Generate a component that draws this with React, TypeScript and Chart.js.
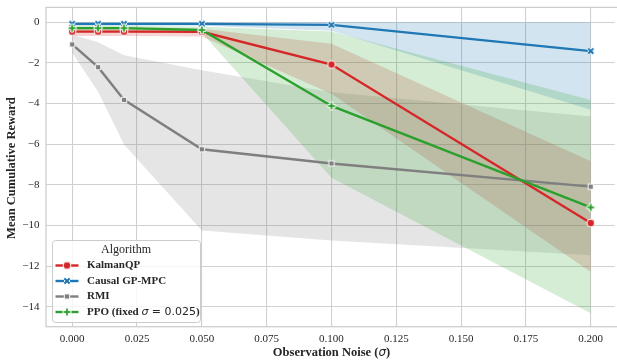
import React, { useEffect, useRef } from "react";
import { Chart, registerables } from "chart.js";

Chart.register(...registerables);

// ---------------- data ----------------
const noiseLevels = [0, 0.01, 0.02, 0.05, 0.1, 0.2];
const algorithmNames = ["KalmanQP", "Causal GP-MPC", "RMI", "PPO (fixed σ = 0.025)"];

const kalmanMean = [-0.46, -0.46, -0.46, -0.47, -2.08, -9.88];
const kalmanUpper = [-0.32, -0.32, -0.32, -0.32, -1.06, -6.84];
const kalmanLower = [-0.68, -0.68, -0.68, -0.7, -3.52, -12.29];

const causalMean = [-0.08, -0.08, -0.08, -0.08, -0.13, -1.42];
const causalUpper = [0.0, 0.0, 0.0, 0.0, 0.0, 0.0];
const causalLower = [-0.17, -0.17, -0.17, -0.17, -0.42, -4.31];

const rmiMean = [-1.09, -2.21, -3.82, -6.25, -6.95, -8.09];
const rmiUpper = [-0.62, -0.98, -1.63, -2.36, -3.45, -4.64];
const rmiLower = [-1.5, -3.42, -6.02, -10.25, -10.74, -11.47];

const ppoMean = [-0.29, -0.29, -0.29, -0.38, -4.12, -9.11];
const ppoUpper = [-0.17, -0.17, -0.17, -0.22, -0.45, -3.82];
const ppoLower = [-0.42, -0.42, -0.42, -0.52, -7.65, -14.32];

const xTickValues = [0, 0.025, 0.05, 0.075, 0.1, 0.125, 0.15, 0.175, 0.2];
const yTickValues = [0, -2, -4, -6, -8, -10, -12, -14];

const xAxisTitle = "Observation Noise (";
const yAxisTitle = "Mean Cumulative Reward";
const legendTitle = "Algorithm";

// ---------------- styles ----------------
const COLORS = ["#d62728", "#1f77b4", "#7f7f7f", "#2ca02c"];
const FILLS = [
  "rgba(214,39,40,0.2)",
  "rgba(31,119,180,0.2)",
  "rgba(127,127,127,0.2)",
  "rgba(44,160,44,0.2)",
];
const MARKERS = ["circle", "x", "square", "plus"];
const TEXT = "#262626";
const SERIF = "'Liberation Serif', 'Times New Roman', serif";
const MATH = "'DejaVu Sans', sans-serif";

function markerCanvas(kind: string, color: string): HTMLCanvasElement {
  const size = 14;
  const c = document.createElement("canvas");
  c.width = size;
  c.height = size;
  const g = c.getContext("2d")!;
  g.translate(size / 2, size / 2);
  g.fillStyle = color;
  g.strokeStyle = "#ffffff";
  g.lineWidth = 1;
  g.lineJoin = "miter";
  g.beginPath();
  if (kind === "circle") {
    g.arc(0, 0, 3.9, 0, Math.PI * 2);
  } else if (kind === "square") {
    g.rect(-2.7, -2.7, 5.4, 5.4);
  } else {
    const s = 8;
    const pts = [
      [-1, -3], [1, -3], [1, -1], [3, -1], [3, 1], [1, 1],
      [1, 3], [-1, 3], [-1, 1], [-3, 1], [-3, -1], [-1, -1],
    ];
    const rot = kind === "x" ? Math.PI / 4 : 0;
    const cs = Math.cos(rot);
    const sn = Math.sin(rot);
    pts.forEach(([px, py], i) => {
      const X = (px / 6) * s;
      const Y = (py / 6) * s;
      const rx = X * cs - Y * sn;
      const ry = X * sn + Y * cs;
      if (i === 0) g.moveTo(rx, ry);
      else g.lineTo(rx, ry);
    });
    g.closePath();
  }
  g.fill();
  g.stroke();
  return c;
}

function pts(values: number[]) {
  return noiseLevels.map((x, i) => ({ x, y: values[i] }));
}

function drawRuns(
  ctx: CanvasRenderingContext2D,
  runs: { text: string; font: string }[],
  x: number,
  y: number,
  align: "left" | "center"
) {
  const widths = runs.map((r) => {
    ctx.font = r.font;
    return ctx.measureText(r.text).width;
  });
  const total = widths.reduce((a, b) => a + b, 0);
  let cx = align === "center" ? x - total / 2 : x;
  ctx.textAlign = "left";
  runs.forEach((r, i) => {
    ctx.font = r.font;
    ctx.fillText(r.text, cx, y);
    cx += widths[i];
  });
}

const CANVAS_W = 622; // plot area continues just past the 617px window edge
const CANVAS_H = 361;

export default function App() {
  const ref = useRef<HTMLCanvasElement | null>(null);

  useEffect(() => {
    const canvas = ref.current;
    if (!canvas) return;
    const markerImgs = MARKERS.map((m, i) => markerCanvas(m, COLORS[i]));

    const means = [kalmanMean, causalMean, rmiMean, ppoMean];
    const uppers = [kalmanUpper, causalUpper, rmiUpper, ppoUpper];
    const lowers = [kalmanLower, causalLower, rmiLower, ppoLower];

    const lineSets: any[] = [];
    const bandSets: any[] = [];
    for (let i = 3; i >= 0; i--) {
      lineSets.push({
        label: algorithmNames[i],
        data: pts(means[i]),
        borderColor: COLORS[i],
        backgroundColor: COLORS[i],
        borderWidth: 2.4,
        fill: false,
        tension: 0,
        pointStyle: markerImgs[i],
        pointRadius: 5,
        pointHoverRadius: 5,
      });
      bandSets.push(
        {
          label: algorithmNames[i] + " upper",
          data: pts(uppers[i]),
          borderWidth: 0,
          borderColor: "rgba(0,0,0,0)",
          pointRadius: 0,
          fill: false,
          tension: 0,
        },
        {
          label: algorithmNames[i] + " lower",
          data: pts(lowers[i]),
          borderWidth: 0,
          borderColor: "rgba(0,0,0,0)",
          backgroundColor: FILLS[i],
          pointRadius: 0,
          fill: "-1",
          tension: 0,
        }
      );
    }

    const decor = {
      id: "decor",
      afterDraw(chart: any) {
        const ctx: CanvasRenderingContext2D = chart.ctx;
        const a = chart.chartArea;
        ctx.save();
        // frame
        ctx.strokeStyle = "#cccccc";
        ctx.lineWidth = 1.25;
        ctx.strokeRect(a.left, a.top, a.right - a.left + 10, a.bottom - a.top);

        const visibleRight = 617;
        ctx.fillStyle = TEXT;
        ctx.textBaseline = "middle";
        // x axis title
        drawRuns(
          ctx,
          [
            { text: xAxisTitle, font: `bold 12.5px ${SERIF}` },
            { text: "σ", font: `italic 12px ${MATH}` },
            { text: ")", font: `bold 12.5px ${SERIF}` },
          ],
          (a.left + visibleRight) / 2,
          353,
          "center"
        );
        // y axis title
        ctx.save();
        ctx.translate(12, (a.top + a.bottom) / 2 + 1);
        ctx.rotate(-Math.PI / 2);
        ctx.font = `bold 12.5px ${SERIF}`;
        ctx.textAlign = "center";
        ctx.fillText(yAxisTitle, 0, 0);
        ctx.restore();

        // legend box
        const bx = 52.5, by = 240.5, bw = 148, bh = 82;
        ctx.beginPath();
        (ctx as any).roundRect(bx, by, bw, bh, 3);
        ctx.fillStyle = "rgba(255,255,255,0.8)";
        ctx.fill();
        ctx.strokeStyle = "#cccccc";
        ctx.lineWidth = 1;
        ctx.stroke();

        ctx.fillStyle = TEXT;
        ctx.font = `12px ${SERIF}`;
        ctx.textAlign = "center";
        ctx.fillText(legendTitle, 126, 250);

        const rowsY = [265.5, 281, 296.5, 312];
        for (let i = 0; i < 4; i++) {
          const y = rowsY[i];
          ctx.strokeStyle = COLORS[i];
          ctx.lineWidth = 2.4;
          ctx.beginPath();
          ctx.moveTo(55.5, y);
          ctx.lineTo(78.5, y);
          ctx.stroke();
          const img = markerImgs[i];
          ctx.drawImage(img, 67 - img.width / 2, y - img.height / 2);
          ctx.fillStyle = TEXT;
          if (i < 3) {
            drawRuns(ctx, [{ text: algorithmNames[i], font: `bold 11px ${SERIF}` }], 87, y, "left");
          } else {
            drawRuns(
              ctx,
              [
                { text: "PPO (fixed ", font: `bold 11px ${SERIF}` },
                { text: "σ", font: `italic 11px ${MATH}` },
                { text: " = 0.025", font: `11px ${MATH}` },
                { text: ")", font: `bold 11px ${SERIF}` },
              ],
              87,
              y,
              "left"
            );
          }
        }
        ctx.restore();
      },
    };

    const zeroPad = (scale: any) => {
      scale.paddingLeft = 0;
      scale.paddingRight = 0;
      scale.paddingTop = 0;
      scale.paddingBottom = 0;
    };

    const chart = new Chart(canvas, {
      type: "line",
      data: { datasets: [...lineSets, ...bandSets] },
      options: {
        animation: false,
        responsive: false,
        devicePixelRatio: 1,
        layout: { padding: { top: 5, left: 0, right: 0, bottom: 0 } },
        plugins: {
          legend: { display: false },
          tooltip: { enabled: false },
          filler: { drawTime: "beforeDatasetsDraw" },
        },
        scales: {
          x: {
            type: "linear",
            min: -0.0101,
            max: 0.2092,
            afterBuildTicks: (scale: any) => {
              scale.ticks = xTickValues.map((v) => ({ value: v }));
            },
            afterFit: (scale: any) => {
              scale.height = 34.3;
              zeroPad(scale);
            },
            grid: { color: "#d0d0d0", lineWidth: 1.1, drawTicks: false },
            border: { display: false },
            ticks: {
              padding: 6,
              color: TEXT,
              font: { family: SERIF, size: 11 },
              maxRotation: 0,
              autoSkip: false,
              callback: (v: any) => Number(v).toFixed(3),
            },
          },
          y: {
            type: "linear",
            min: -14.98,
            max: 0.73,
            afterBuildTicks: (scale: any) => {
              scale.ticks = yTickValues.map((v) => ({ value: v }));
            },
            afterFit: (scale: any) => {
              scale.width = 46;
              zeroPad(scale);
            },
            grid: { color: "#d0d0d0", lineWidth: 1.1, drawTicks: false },
            border: { display: false },
            ticks: {
              padding: 6.5,
              color: TEXT,
              font: { family: SERIF, size: 11 },
              autoSkip: false,
              callback: (v: any) => {
                const n = Number(v);
                return n < 0 ? "\u2212" + Math.abs(n) : String(n);
              },
            },
          },
        },
      },
      plugins: [decor],
    } as any);

    return () => {
      chart.destroy();
    };
  }, []);

  return (
    <div
      style={{
        position: "fixed",
        left: 0,
        top: 0,
        width: 617,
        height: 361,
        overflow: "hidden",
        background: "#fff",
      }}
    >
      <canvas
        ref={ref}
        width={CANVAS_W}
        height={CANVAS_H}
        style={{ display: "block", width: CANVAS_W, height: CANVAS_H }}
      />
    </div>
  );
}
